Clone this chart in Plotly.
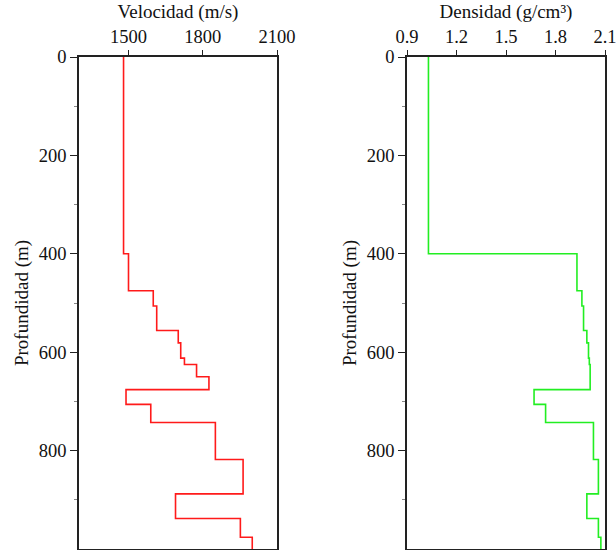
import plotly.graph_objects as go

depth_tops = [0, 400, 475, 506, 556, 581, 612, 625, 650, 676, 706, 743, 818, 888, 938, 976, 1000]
velocity = [1480, 1500, 1600, 1614, 1701, 1711, 1726, 1775, 1825, 1490, 1590, 1851, 1963, 1690, 1952, 2000, 2000]
density = [1.03, 1.93, 1.96, 1.97, 1.99, 2.00, 2.005, 2.01, 2.01, 1.67, 1.74, 2.03, 2.06, 1.99, 2.06, 2.075, 2.075]

vel_ticks = [1500, 1800, 2100]
den_ticks = [0.9, 1.2, 1.5, 1.8, 2.1]
depth_ticks = [0, 200, 400, 600, 800]

FONT = "Liberation Serif, Times New Roman, Times, serif"
AX = "#222222"
TICK_SIZE = 18.5
TITLE_SIZE = 19

fig = go.Figure()
fig.add_trace(go.Scatter(x=velocity, y=depth_tops, mode="lines", line=dict(color="#ff1a1a", width=1.6, shape="vh"),
                         xaxis="x", yaxis="y", showlegend=False))
fig.add_trace(go.Scatter(x=density, y=depth_tops, mode="lines", line=dict(color="#22ee22", width=1.6, shape="vh"),
                         xaxis="x2", yaxis="y2", showlegend=False))

common_x = dict(side="top", showgrid=False, zeroline=False, showline=True, linecolor=AX, linewidth=1.5,
                mirror=True, ticks="outside", ticklen=5, tickcolor=AX, tickwidth=1.3, automargin=False,
                ticklabeloverflow="allow",
                tickfont=dict(family=FONT, size=TICK_SIZE, color="#111"))
common_y = dict(autorange=False, range=[1000, 0], showgrid=False, zeroline=False, showline=True, linecolor=AX,
                linewidth=1.5, mirror=True, ticks="outside", ticklen=7, tickcolor=AX, tickwidth=1.3,
                tickvals=depth_ticks, tickfont=dict(family=FONT, size=TICK_SIZE, color="#111"), automargin=False,
                minor=dict(tickvals=[100, 300, 500, 700, 900], ticks="outside", ticklen=3, tickcolor="#888"),
                title=dict(text="Profundidad (m)", font=dict(family=FONT, size=TITLE_SIZE, color="#111"), standoff=5))

fig.update_layout(
    width=616, height=550,
    margin=dict(l=79, r=11, t=57, b=1, autoexpand=False),
    paper_bgcolor="white", plot_bgcolor="white",
    font=dict(family=FONT),
    xaxis=dict(domain=[0, 198/526], range=[1300, 2100], tickvals=vel_ticks,
               title=dict(text="Velocidad (m/s)", font=dict(family=FONT, size=TITLE_SIZE, color="#111"), standoff=3),
               anchor="y", **common_x),
    yaxis=dict(anchor="x", **common_y),
    xaxis2=dict(domain=[328/526, 1], range=[0.9, 2.1], tickvals=den_ticks, ticktext=["0.9", "1.2", "1.5", "1.8", "2.1"],
                title=dict(text="Densidad (g/cm³)", font=dict(family=FONT, size=TITLE_SIZE, color="#111"), standoff=3),
                anchor="y2", **common_x),
    yaxis2=dict(anchor="x2", **common_y),
)

fig.write_html("out.html")
